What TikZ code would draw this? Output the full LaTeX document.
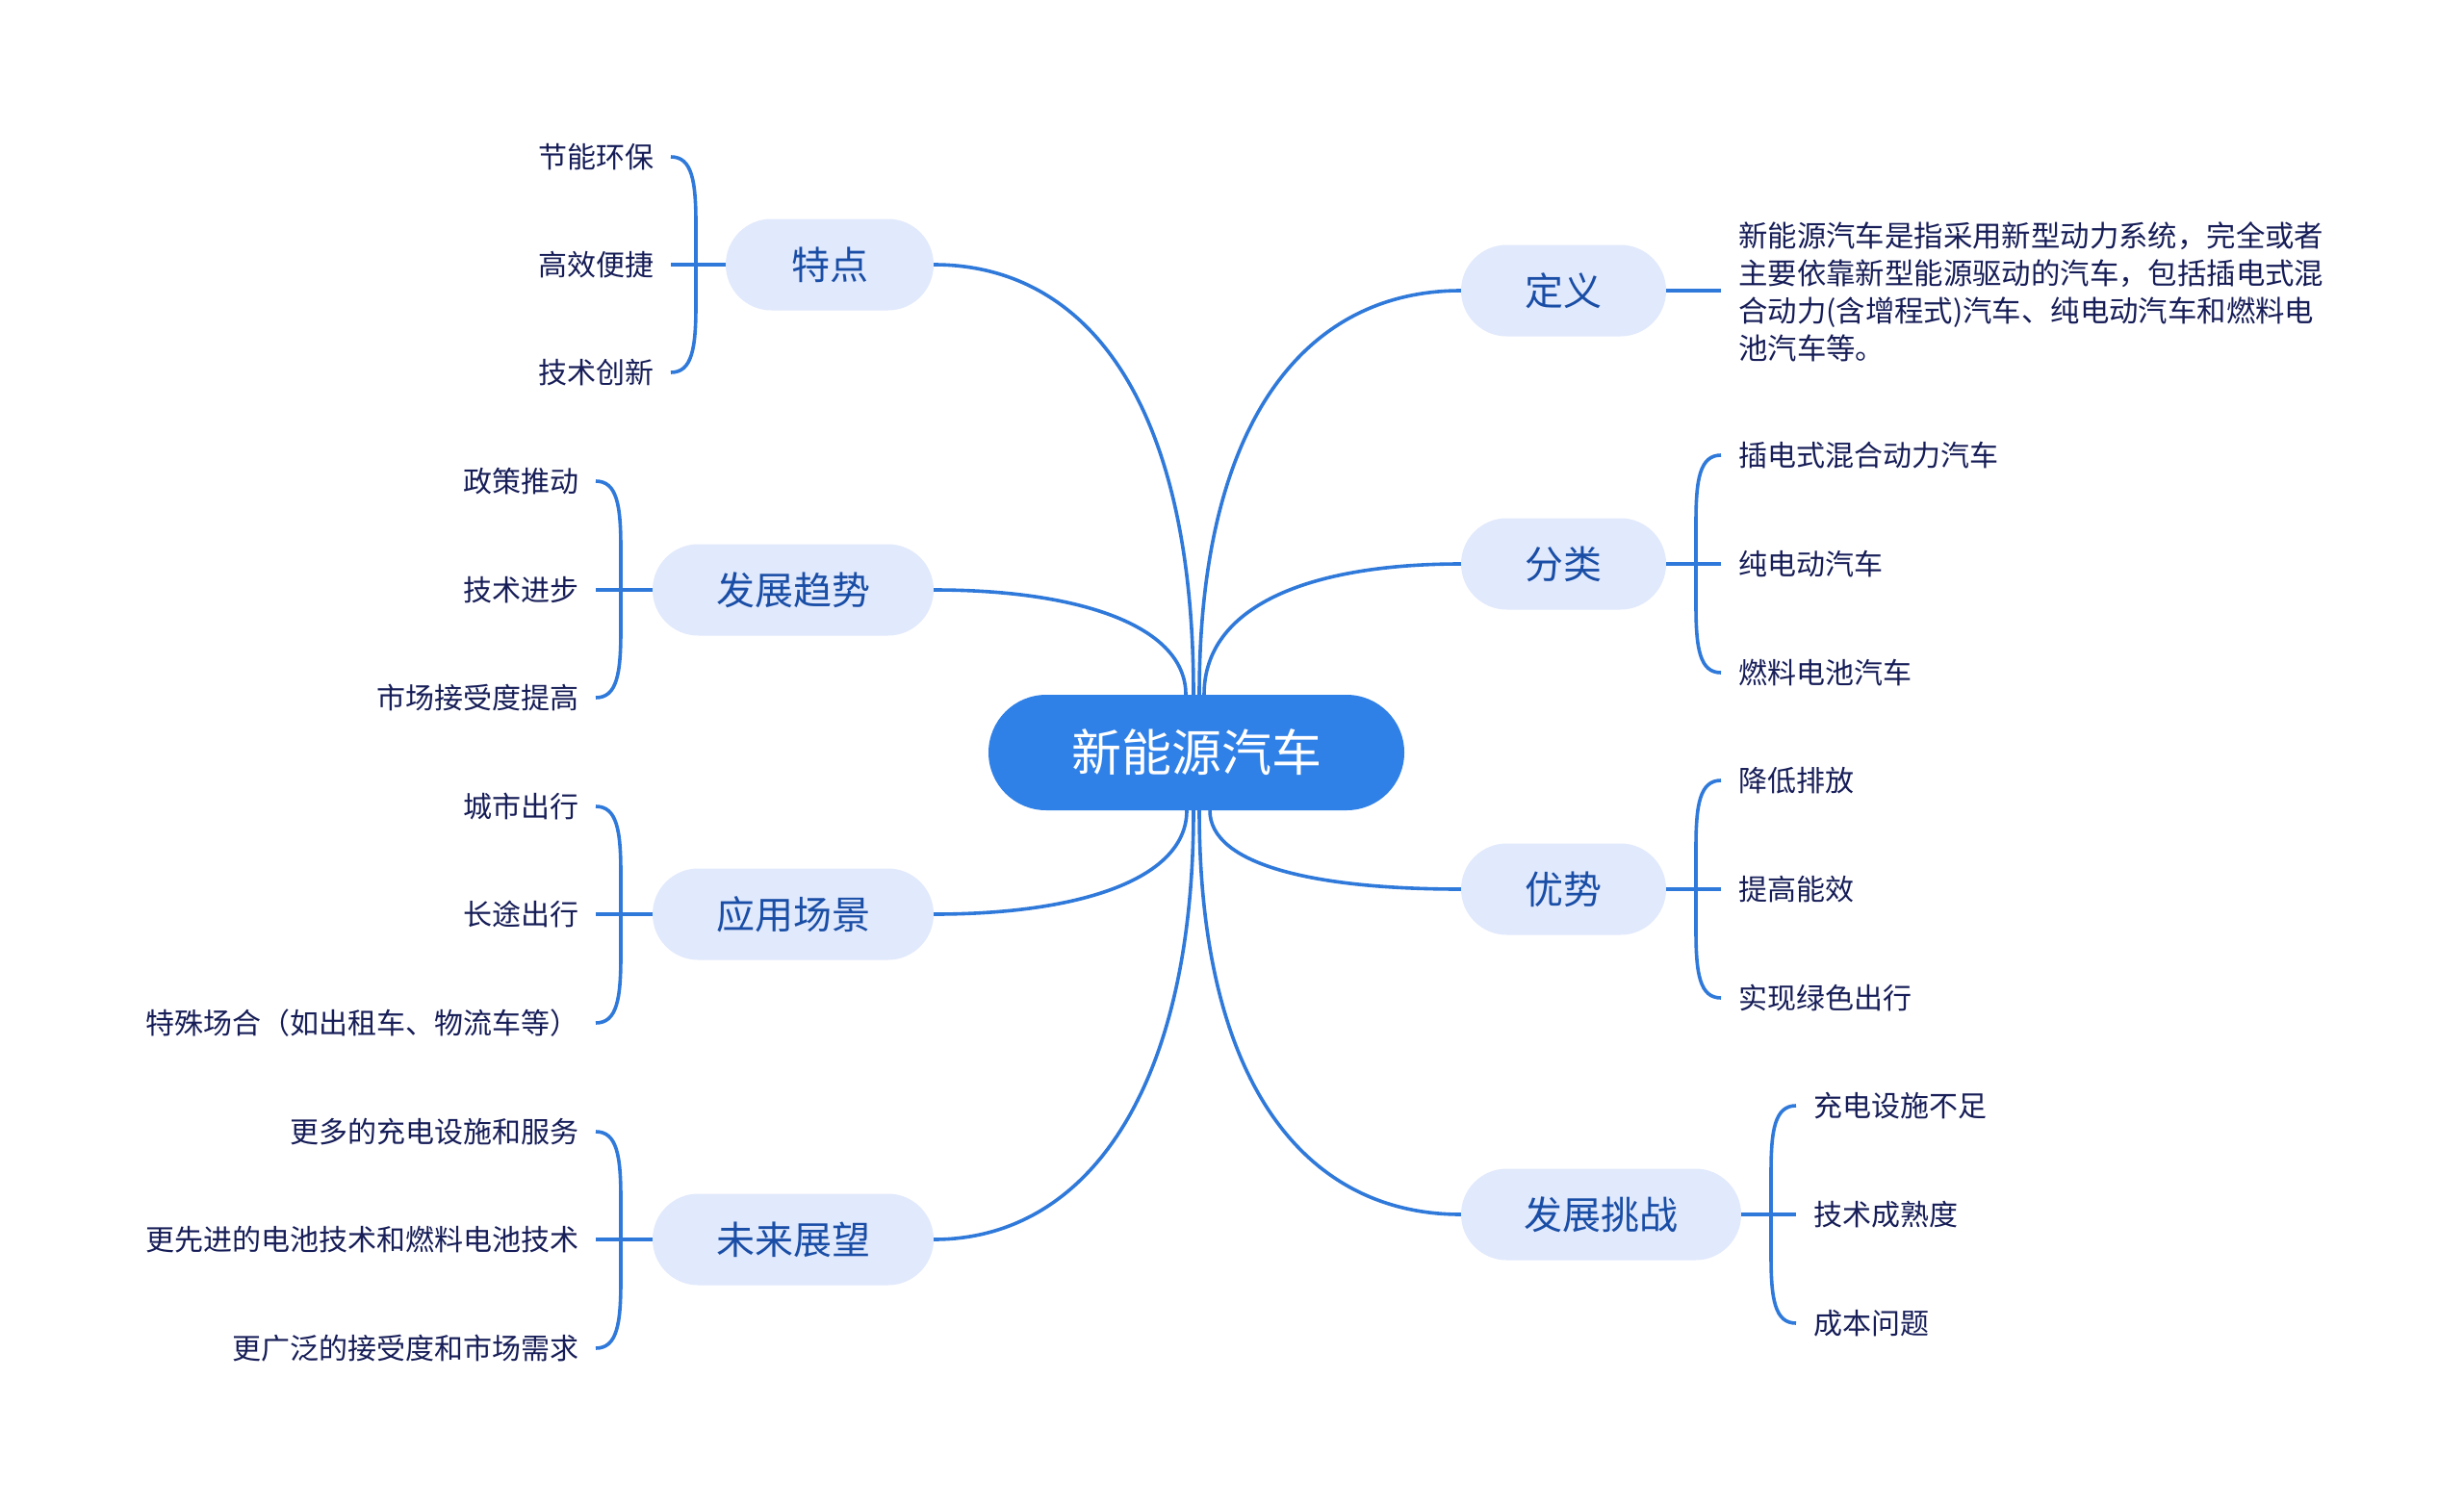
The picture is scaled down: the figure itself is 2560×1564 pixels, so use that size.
\documentclass[tikz,border=0pt]{standalone}
\usepackage{fontspec}
\setmainfont{Noto Sans CJK SC}
\definecolor{rootblue}{HTML}{2F80E7}
\definecolor{linkblue}{HTML}{2F79DA}
\definecolor{branchfill}{HTML}{E1E9FC}
\definecolor{branchtext}{HTML}{1A4EA6}
\definecolor{leaftext}{HTML}{161D57}
\newcommand{\bracketL}[2]{\draw[link] ([xshift=17pt]#1.east) .. controls +(22,0) and +(0,-45) .. +(26,70) -- ([xshift=43pt,yshift=70pt]#2.east) .. controls +(0,45) and +(22,0) .. ([xshift=17pt]#2.east);}
\newcommand{\bracketR}[2]{\draw[link] ([xshift=-18pt]#1.west) .. controls +(-22,0) and +(0,-45) .. +(-26,70) -- ([xshift=-44pt,yshift=70pt]#2.west) .. controls +(0,45) and +(-22,0) .. ([xshift=-18pt]#2.west);}
\begin{document}
\begin{tikzpicture}[x=1pt,y=-1pt,
  rootnode/.style={fill=rootblue, text=white, rounded corners=60pt, minimum width=432pt, minimum height=120pt, inner sep=0pt, font=\fontsize{52}{60}\selectfont},
  branchnode/.style={fill=branchfill, text=branchtext, rounded corners=47.5pt, minimum height=95pt, inner sep=0pt, font=\fontsize{40}{48}\selectfont},
  leafL/.style={anchor=east, text=leaftext, inner sep=0pt, font=\fontsize{30}{36}\selectfont},
  leafR/.style={anchor=west, text=leaftext, inner sep=0pt, font=\fontsize{30}{36}\selectfont},
  link/.style={draw=linkblue, line width=3.6pt}]
\fill[white] (0,0) rectangle (2560,1564);
\useasboundingbox (0,0) rectangle (2560,1564);

% root and branches
\node[rootnode] (root) at (1243,782) {新能源汽车};
\node[branchnode, minimum width=216pt] (tedian) at (862,275) {特点};
\node[branchnode, minimum width=292pt] (qushi) at (824,613) {发展趋势};
\node[branchnode, minimum width=292pt] (changjing) at (824,950) {应用场景};
\node[branchnode, minimum width=292pt] (zhanwang) at (824,1288) {未来展望};
\node[branchnode, minimum width=213pt] (dingyi) at (1624.5,302) {定义};
\node[branchnode, minimum width=213pt] (fenlei) at (1624.5,586) {分类};
\node[branchnode, minimum width=213pt] (youshi) at (1624.5,924) {优势};
\node[branchnode, minimum width=291pt] (tiaozhan) at (1663.5,1262) {发展挑战};

% attachment points on the root
\coordinate (rtA) at ([xshift=-11pt]root.north);
\coordinate (rtB) at ([xshift=-3pt]root.north);
\coordinate (rtC) at ([xshift=3pt]root.north);
\coordinate (rtD) at ([xshift=8pt]root.north);
\coordinate (rbA) at ([xshift=-10pt]root.south);
\coordinate (rbB) at ([xshift=-3pt]root.south);
\coordinate (rbC) at ([xshift=3pt]root.south);
\coordinate (rbD) at ([xshift=14pt]root.south);

% root connectors
\draw[link] (tedian.east) .. controls +(159,0) and +(0,-304) .. (rtB);
\draw[link] (qushi.east) .. controls +(155,0) and +(0,-70) .. (rtA);
\draw[link] (changjing.east) .. controls +(155,0) and +(0,70) .. (rbA);
\draw[link] (zhanwang.east) .. controls +(159,0) and +(0,290) .. (rbB);
\draw[link] (dingyi.west) .. controls +(-160,0) and +(0,-286) .. (rtC);
\draw[link] (fenlei.west) .. controls +(-158,0) and +(0,-92) .. (rtD);
\draw[link] (youshi.west) .. controls +(-154,0) and +(0,56) .. (rbD);
\draw[link] (tiaozhan.west) .. controls +(-160,0) and +(0,286) .. (rbC);

% left leaves
\node[leafL] (a1) at (680,163) {节能环保};
\node[leafL] (a2) at (680,275) {高效便捷};
\node[leafL] (a3) at (680,387) {技术创新};
\node[leafL] (b1) at (602,500) {政策推动};
\node[leafL] (b2) at (602,613) {技术进步};
\node[leafL] (b3) at (602,725) {市场接受度提高};
\node[leafL] (c1) at (602,838) {城市出行};
\node[leafL] (c2) at (602,950) {长途出行};
\node[leafL] (c3) at (602,1063) {特殊场合（如出租车、物流车等）};
\node[leafL] (d1) at (602,1176) {更多的充电设施和服务};
\node[leafL] (d2) at (602,1288) {更先进的电池技术和燃料电池技术};
\node[leafL] (d3) at (602,1401) {更广泛的接受度和市场需求};

% right leaves
\node[leafR, align=left, font=\fontsize{30.4}{39}\selectfont] (def) at (1806,303) {新能源汽车是指采用新型动力系统，完全或者\\主要依靠新型能源驱动的汽车，包括插电式混\\合动力(含增程式)汽车、纯电动汽车和燃料电\\池汽车等。};
\node[leafR] (f1) at (1806,473) {插电式混合动力汽车};
\node[leafR] (f2) at (1806,586) {纯电动汽车};
\node[leafR] (f3) at (1806,699) {燃料电池汽车};
\node[leafR] (y1) at (1806,811) {降低排放};
\node[leafR] (y2) at (1806,924) {提高能效};
\node[leafR] (y3) at (1806,1037) {实现绿色出行};
\node[leafR] (z1) at (1884,1149) {充电设施不足};
\node[leafR] (z2) at (1884,1262) {技术成熟度};
\node[leafR] (z3) at (1884,1375) {成本问题};

% brackets and stems, left
\bracketL{a1}{a3}
\draw[link] (tedian.west) -- ([xshift=17pt]a2.east);
\bracketL{b1}{b3}
\draw[link] (qushi.west) -- ([xshift=17pt]b2.east);
\bracketL{c1}{c3}
\draw[link] (changjing.west) -- ([xshift=17pt]c2.east);
\bracketL{d1}{d3}
\draw[link] (zhanwang.west) -- ([xshift=17pt]d2.east);

% brackets and stems, right
\draw[link] (dingyi.east) -- ([xshift=-18pt]def.west |- dingyi.east);
\bracketR{f1}{f3}
\draw[link] (fenlei.east) -- ([xshift=-18pt]f2.west);
\bracketR{y1}{y3}
\draw[link] (youshi.east) -- ([xshift=-18pt]y2.west);
\bracketR{z1}{z3}
\draw[link] (tiaozhan.east) -- ([xshift=-18pt]z2.west);
\end{tikzpicture}
\end{document}
